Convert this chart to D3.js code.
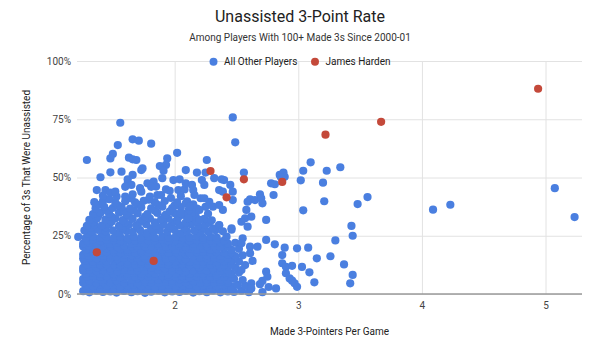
<!DOCTYPE html>
<html><head><meta charset="utf-8">
<script src="https://cdn.jsdelivr.net/npm/d3@7"></script>
<style>body{margin:0;background:#fff}svg{display:block;font-family:Roboto,"Noto Sans",Arial,sans-serif}</style>
</head><body><svg id="c" width="600" height="346"></svg>
<script>
// [made 3s per game, % of 3s unassisted]
const otherPlayers = [
// solid lower blob
[1.26,1.2],[1.31,0.7],[1.37,1.4],[1.42,0.9],[1.48,1.1],[1.53,0.6],[1.59,1.3],[1.65,0.8],[1.70,1.2],[1.76,0.5],[1.81,1.0],[1.87,1.4],[1.92,0.7],[1.98,1.1],[2.04,0.9],[2.09,1.3],[2.15,0.6],[2.20,1.2],[2.26,0.8],[2.31,1.5],[2.37,0.7],[2.43,1.1],[2.48,0.9],[2.54,1.4],[2.60,0.8],
[1.29,2.3],[1.34,2.6],[1.40,2.2],[1.45,2.5],[1.51,2.4],[1.56,2.1],[1.62,2.6],[1.68,2.3],[1.73,2.5],[1.79,2.2],[1.84,2.6],[1.90,2.4],[1.95,2.2],[2.01,2.5],[2.06,2.3],[2.12,2.6],[2.18,2.2],[2.23,2.4],[2.29,2.6],[2.34,2.3],[2.40,2.5],[2.46,2.2],
[1.28,3.8],[1.34,3.3],[1.40,4.0],[1.45,3.5],[1.51,3.9],[1.56,3.2],[1.62,3.7],[1.67,4.1],[1.73,3.4],[1.79,3.8],[1.84,3.1],[1.90,3.6],[1.95,4.0],[2.01,3.3],[2.07,3.7],[2.12,3.9],[2.18,3.2],[2.23,3.6],[2.29,4.1],[2.34,3.4],[2.40,3.8],[2.46,3.3],[2.51,3.9],[2.57,3.5],
[1.26,4.8],[1.31,5.1],[1.37,4.7],[1.42,5.0],[1.48,4.9],[1.54,5.2],[1.59,4.8],[1.65,5.0],[1.70,4.7],[1.76,5.1],[1.81,4.9],[1.87,4.8],[1.93,5.2],[1.98,4.9],[2.04,4.7],[2.09,5.0],[2.15,5.1],[2.21,4.8],[2.26,5.0],[2.32,4.9],[2.37,5.2],[2.43,4.8],
[1.26,6.4],[1.31,5.9],[1.37,6.6],[1.42,6.0],[1.48,6.3],[1.53,5.8],[1.59,6.5],[1.65,6.1],[1.70,6.7],[1.76,5.9],[1.81,6.3],[1.87,6.0],[1.92,6.6],[1.98,5.8],[2.04,6.2],[2.09,6.5],[2.15,5.9],[2.20,6.4],[2.26,6.0],[2.31,6.6],[2.37,6.1],[2.43,5.8],[2.48,6.5],[2.55,6.0],
[1.29,7.4],[1.34,7.7],[1.40,7.3],[1.45,7.6],[1.51,7.5],[1.56,7.2],[1.62,7.7],[1.68,7.4],[1.73,7.6],[1.79,7.3],[1.84,7.5],[1.90,7.7],[1.95,7.3],[2.01,7.5],[2.06,7.6],[2.12,7.2],[2.18,7.5],[2.23,7.7],[2.29,7.4],[2.34,7.6],[2.40,7.3],[2.46,7.5],
[1.28,8.6],[1.34,9.1],[1.40,8.7],[1.45,9.2],[1.51,8.5],[1.56,9.0],[1.62,8.8],[1.67,9.3],[1.73,8.6],[1.79,9.0],[1.84,8.7],[1.90,9.2],[1.95,8.5],[2.01,8.9],[2.07,9.1],[2.12,8.6],[2.18,9.0],[2.23,8.8],[2.29,9.3],[2.34,8.5],[2.40,9.0],[2.46,8.7],[2.52,9.2],
[1.26,10.0],[1.31,10.3],[1.37,9.9],[1.42,10.2],[1.48,10.1],[1.54,9.8],[1.59,10.3],[1.65,10.0],[1.70,10.2],[1.76,9.9],[1.81,10.1],[1.87,10.3],[1.93,9.9],[1.98,10.1],[2.04,10.2],[2.09,9.8],[2.15,10.1],[2.21,10.3],[2.26,10.0],[2.32,10.2],[2.37,9.9],[2.43,10.1],
[1.26,11.2],[1.31,11.7],[1.37,11.3],[1.42,11.8],[1.48,11.1],[1.53,11.6],[1.59,11.4],[1.65,11.9],[1.70,11.2],[1.76,11.6],[1.81,11.3],[1.87,11.8],[1.92,11.1],[1.98,11.5],[2.04,11.7],[2.09,11.2],[2.15,11.6],[2.20,11.4],[2.26,11.9],[2.31,11.1],[2.37,11.5],[2.43,11.8],[2.49,11.3],
[1.29,12.6],[1.34,12.9],[1.40,12.5],[1.45,12.8],[1.51,12.7],[1.56,12.4],[1.62,12.9],[1.68,12.6],[1.73,12.8],[1.79,12.5],[1.84,12.7],[1.90,12.9],[1.95,12.5],[2.01,12.7],[2.06,12.8],[2.12,12.4],[2.18,12.7],[2.23,12.9],[2.29,12.6],[2.34,12.8],[2.40,12.5],[2.46,12.7],
[1.27,14.2],[1.34,13.8],[1.40,14.3],[1.45,13.9],[1.51,14.4],[1.56,13.7],[1.62,14.1],[1.67,14.5],[1.73,13.8],[1.79,14.2],[1.84,13.9],[1.90,14.4],[1.95,13.7],[2.01,14.1],[2.07,14.3],[2.12,13.8],[2.18,14.2],[2.23,14.0],[2.29,14.5],[2.34,13.7],[2.40,14.1],[2.46,14.4],[2.52,13.9],
[1.26,15.2],[1.31,15.5],[1.37,15.1],[1.42,15.4],[1.48,15.3],[1.54,15.0],[1.59,15.5],[1.65,15.2],[1.70,15.4],[1.76,15.1],[1.81,15.3],[1.87,15.5],[1.93,15.1],[1.98,15.3],[2.04,15.4],[2.09,15.0],[2.15,15.3],[2.21,15.5],[2.26,15.2],[2.32,15.4],[2.37,15.1],[2.43,15.3],
[1.26,16.8],[1.31,16.3],[1.37,16.9],[1.42,16.4],[1.48,16.7],[1.53,16.2],[1.59,16.8],[1.65,16.5],[1.70,17.0],[1.76,16.3],[1.81,16.7],[1.87,16.4],[1.92,16.9],[1.98,16.2],[2.04,16.6],[2.09,16.8],[2.15,16.3],[2.20,16.7],[2.26,16.5],[2.31,17.0],[2.37,16.4],[2.43,16.8],[2.49,16.3],[2.55,16.6],
[1.29,17.8],[1.34,18.1],[1.40,17.7],[1.45,18.0],[1.51,17.9],[1.56,17.6],[1.62,18.1],[1.68,17.8],[1.73,18.0],[1.79,17.7],[1.84,17.9],[1.90,18.1],[1.95,17.7],[2.01,17.9],[2.06,18.0],[2.12,17.6],[2.18,17.9],[2.23,18.1],[2.29,17.8],[2.34,18.0],[2.40,17.7],[2.46,17.9],
[1.28,19.0],[1.34,19.5],[1.40,19.1],[1.45,19.6],[1.51,18.9],[1.56,19.3],[1.62,19.0],[1.67,19.5],[1.73,18.8],[1.79,19.2],[1.84,19.6],[1.90,19.0],[1.95,19.4],[2.01,18.9],[2.07,19.3],[2.12,19.6],[2.18,19.0],[2.23,19.4],[2.29,18.9],[2.34,19.3],[2.40,19.6],[2.46,19.0],[2.52,19.4],
[1.26,20.4],[1.31,20.7],[1.37,20.3],[1.42,20.6],[1.48,20.5],[1.54,20.2],[1.59,20.7],[1.65,20.4],[1.70,20.6],[1.76,20.3],[1.81,20.5],[1.87,20.7],[1.93,20.3],[1.98,20.5],[2.04,20.6],[2.09,20.2],[2.15,20.5],[2.21,20.7],[2.26,20.4],[2.32,20.6],[2.37,20.3],[2.43,20.5],
[1.26,21.6],[1.31,22.1],[1.37,21.7],[1.42,22.2],[1.48,21.5],[1.53,21.9],[1.59,22.3],[1.65,21.6],[1.70,22.0],[1.76,21.7],[1.81,22.2],[1.87,21.5],[1.92,21.9],[1.98,22.3],[2.04,21.6],[2.09,22.0],[2.15,21.8],[2.20,22.3],[2.26,21.5],[2.31,21.9],[2.37,22.2],[2.43,21.6],[2.49,22.0],
[1.29,23.0],[1.34,23.3],[1.40,22.9],[1.45,23.2],[1.51,23.1],[1.56,22.8],[1.62,23.3],[1.68,23.0],[1.73,23.2],[1.79,22.9],[1.84,23.1],[1.90,23.3],[1.95,22.9],[2.01,23.1],[2.06,23.2],[2.12,22.8],[2.18,23.1],[2.23,23.3],[2.29,23.0],[2.34,23.2],[2.40,22.9],
[1.22,24.5],[1.28,24.0],[1.34,24.6],[1.40,24.2],[1.45,24.7],[1.51,24.1],[1.56,24.5],[1.62,24.0],[1.67,24.6],[1.73,24.3],[1.79,24.8],[1.84,24.1],[1.90,24.5],[1.95,24.2],[2.01,24.7],[2.07,24.0],[2.12,24.4],[2.18,24.8],[2.23,24.1],[2.29,24.5],[2.34,24.2],[2.42,24.6],
// upper blob with gaps
[1.30,25.9],[1.42,26.0],[1.55,26.2],[1.77,26.1],[2.05,26.0],[2.21,26.3],
[1.27,27.2],[1.33,26.8],[1.38,27.5],[1.44,26.9],[1.50,27.3],[1.61,27.0],[1.66,26.7],[1.72,27.4],[1.83,26.9],[1.88,27.3],[1.94,26.8],[2.00,27.5],[2.10,26.9],[2.16,27.2],[2.27,26.8],[2.33,27.4],[2.39,26.9],[2.46,27.6],
[1.32,28.4],[1.44,28.6],[1.58,28.3],[1.70,28.5],[1.81,28.2],[1.96,28.6],[2.08,28.3],[2.22,28.5],[2.31,28.2],
[1.29,29.3],[1.35,29.8],[1.41,29.4],[1.47,30.0],[1.55,29.2],[1.63,29.7],[1.69,29.4],[1.77,29.9],[1.85,29.3],[1.91,29.8],[1.97,29.2],[2.04,29.6],[2.13,29.9],[2.19,29.3],[2.25,29.7],[2.36,29.5],
[1.34,30.8],[1.49,31.0],[1.60,30.6],[1.72,30.9],[1.84,30.7],[2.00,30.9],[2.09,30.6],[2.28,30.8],
[1.31,31.8],[1.37,32.3],[1.44,31.9],[1.52,32.4],[1.58,31.7],[1.66,32.2],[1.74,31.8],[1.80,32.4],[1.89,31.9],[1.95,32.3],[2.02,31.7],[2.11,32.5],[2.17,31.8],[2.24,32.2],[2.30,31.6],
[1.38,33.3],[1.49,33.1],[1.63,33.5],[1.76,33.2],[1.92,33.4],[2.03,33.0],[2.17,33.4],
[1.34,34.3],[1.40,34.8],[1.47,34.4],[1.55,34.9],[1.61,34.2],[1.70,34.6],[1.78,34.3],[1.86,34.8],[1.93,34.1],[2.00,34.7],[2.08,34.3],[2.14,34.9],[2.27,34.4],
[1.45,35.8],[1.59,35.6],[1.67,35.9],[1.84,35.7],[1.96,35.5],[2.11,35.8],
[1.36,36.8],[1.43,37.4],[1.50,36.9],[1.57,37.3],[1.64,36.7],[1.73,37.2],[1.81,36.8],[1.90,37.5],[1.98,36.9],[2.05,37.3],[2.18,36.6],[2.25,37.4],
[1.39,38.3],[1.54,38.1],[1.70,38.4],[1.87,38.2],[2.00,38.0],[2.15,38.5],
[1.35,39.4],[1.42,39.9],[1.52,39.2],[1.60,39.8],[1.68,39.3],[1.75,40.0],[1.84,39.4],[1.92,39.9],[2.02,39.3],[2.10,39.8],[2.28,39.6],
[1.47,40.7],[1.65,41.0],[1.79,40.5],[1.97,41.2],
// scattered, left half
[1.56,73.5],[1.66,66.4],[1.71,65.8],[1.54,63.9],[1.81,64.5],[1.50,60.1],[1.48,58.2],[1.29,57.5],[1.63,58.5],[1.66,57.8],[1.69,57.5],[2.02,60.6],[1.94,58.2],[1.93,55.4],[1.88,54.9],[1.91,52.9],[1.74,53.9],[1.73,53.2],[1.57,52.5],[1.48,52.2],[2.09,53.2],[1.40,50.1],[1.62,49.2],[1.66,51.1],[1.62,47.5],[1.65,46.8],[1.78,47.5],[1.83,48.2],[1.85,46.1],[1.90,49.7],[1.99,48.9],[2.04,49.2],[1.72,45.4],[1.37,44.6],[1.44,44.6],[1.48,43.5],[1.93,44.9],[1.96,44.3],[2.03,44.6],[2.08,44.9],[1.53,41.8],[1.60,41.8],[1.80,41.8],[1.86,42.5],
[1.60,46.0],[1.73,43.9],[1.81,46.0],[1.89,42.5],[1.52,44.0],[1.42,42.2],[1.66,42.8],[2.05,42.0],
[2.47,75.8],[2.49,65.1],[2.26,57.5],[2.18,52.1],[2.25,52.1],[2.56,52.1],[2.32,49.7],[2.38,49.2],[2.40,48.9],[2.09,47.5],[2.22,48.9],[2.24,46.8],[2.14,46.8],[2.45,46.8],[2.85,51.1],[2.88,52.1],[2.89,50.3],[2.86,50.1],[2.78,47.5],[2.81,47.1],[2.15,44.6],[2.16,42.5],[2.36,44.6],[2.39,43.9],[2.47,43.9],[2.69,42.8],[2.80,42.5],[2.21,41.1],[2.24,41.1],[2.61,40.6],
[2.09,38.9],[2.12,37.5],[2.31,37.5],[2.36,38.2],[2.39,36.1],[2.47,40.3],[2.59,39.6],[2.65,40.3],[2.70,41.1],[2.71,38.9],[2.58,36.1],[2.57,32.5],[2.54,31.0],[2.59,28.9],[2.62,33.2],[2.74,31.8],[2.07,33.9],[2.11,32.5],[2.18,31.0],[2.20,31.8],[2.36,29.6],[2.46,28.2],[2.20,36.1],[2.05,34.6],
[2.74,23.2],[2.81,21.3],[2.89,19.9],[2.87,16.7],[2.67,20.3],[2.61,20.3],[2.55,23.9],[2.54,21.8],[2.61,17.5],[2.63,14.2],[2.57,12.4],[2.54,10.3],[2.87,13.2],[2.90,11.7],[2.90,8.9],[2.74,9.6],[2.75,7.4],[2.71,5.6],[2.69,4.2],[2.62,4.6],[2.62,2.4],[2.82,2.4],[2.71,0.8],[2.76,3.0],
// scattered, right half
[3.10,56.5],[3.04,52.9],[3.23,52.9],[3.34,54.4],[3.02,48.8],[3.20,47.8],[3.21,39.8],[3.04,35.9],[3.48,38.6],[3.56,41.6],[3.43,29.2],[3.44,25.0],[3.30,23.0],[2.99,19.6],[3.08,19.9],[3.15,15.3],[3.26,16.2],[2.95,12.1],[3.03,11.6],[3.09,9.3],[3.37,12.7],[3.44,8.2],[3.42,4.6],[3.13,5.0],[2.93,6.7],[2.95,5.7],[2.97,4.6],[2.99,3.1],
[4.09,36.2],[4.23,38.3],[5.075,45.4],[5.235,33.0]
];
const jamesHarden = [[1.37,17.9],[1.83,14.2],[2.29,52.8],[2.56,49.2],[2.42,41.5],[2.87,48.1],[3.22,68.4],[3.67,73.9],[4.94,88.1]];
const seriesNames = ["All Other Players", "James Harden"];
const seriesColors = ["#4a7fe0", "#c4493a"];
const xTicks = [2, 3, 4, 5];
const yTicks = [0, 25, 50, 75, 100];
const xDomain = [1.21, 5.295];
const yDomain = [0, 100];

const svg = d3.select("#c");
const L = 77, R = 582, T = 61, B = 294;
const x = d3.scaleLinear().domain(xDomain).range([L, R]);
const y = d3.scaleLinear().domain(yDomain).range([B, T]);

// gridlines + y labels
const ya = svg.append("g").attr("transform", `translate(${L},0)`)
  .call(d3.axisLeft(y).tickValues(yTicks).tickSize(-(R - L)).tickPadding(6).tickFormat(d => d + "%"));
ya.select(".domain").remove();
ya.selectAll("line").attr("stroke", "#e2e2e2");
ya.selectAll("text").attr("fill", "#444").style("font-size", "10px").style("font-family", "Roboto");

const xa = svg.append("g").attr("transform", `translate(0,${B})`)
  .call(d3.axisBottom(x).tickValues(xTicks).tickSize(-(B - T)).tickPadding(8).tickFormat(d3.format("d")));
xa.select(".domain").remove();
xa.selectAll("line").attr("stroke", "#e2e2e2");
xa.selectAll("text").attr("fill", "#444").style("font-size", "10px").style("font-family", "Roboto");

// points
const rPt = 4.1;
svg.append("g").selectAll("circle").data(otherPlayers).join("circle")
  .attr("cx", d => x(d[0])).attr("cy", d => y(d[1])).attr("r", rPt).attr("fill", seriesColors[0]);
svg.append("g").selectAll("circle").data(jamesHarden).join("circle")
  .attr("cx", d => x(d[0])).attr("cy", d => y(d[1])).attr("r", rPt).attr("fill", seriesColors[1]);

// baseline
svg.append("line").attr("x1", L).attr("x2", R).attr("y1", y(0)).attr("y2", y(0))
  .attr("stroke", "#9a9a9a").attr("stroke-width", 1.6);

// titles
svg.append("text").attr("x", 300).attr("y", 22).attr("text-anchor", "middle")
  .style("font-size", "16px").attr("fill", "#222").text("Unassisted 3-Point Rate");
svg.append("text").attr("x", 300).attr("y", 41).attr("text-anchor", "middle")
  .style("font-size", "10px").attr("fill", "#333").text("Among Players With 100+ Made 3s Since 2000-01");
svg.append("text").attr("x", (L + R) / 2).attr("y", 335).attr("text-anchor", "middle")
  .style("font-size", "10px").attr("fill", "#222").text("Made 3-Pointers Per Game");
svg.append("text").attr("transform", `translate(30,${(T + B) / 2}) rotate(-90)`).attr("text-anchor", "middle")
  .style("font-size", "10px").attr("fill", "#222").text("Percentage of 3s That Were Unassisted");

// legend
const legX = [213.5, 315];
seriesNames.forEach((n, i) => {
  svg.append("circle").attr("cx", legX[i]).attr("cy", 61.7).attr("r", 4).attr("fill", seriesColors[i]);
  svg.append("text").attr("x", legX[i] + 10.5).attr("y", 65.3).style("font-size", "10px").attr("fill", "#222").text(n);
});
</script></body></html>
